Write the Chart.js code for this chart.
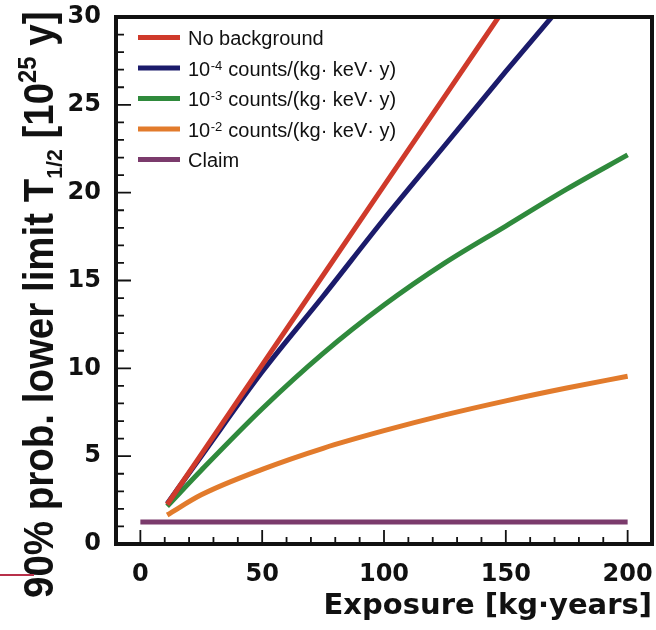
<!DOCTYPE html>
<html>
<head>
<meta charset="utf-8">
<script src="https://cdn.jsdelivr.net/npm/chart.js@4/dist/chart.umd.min.js"></script>
<style>
  html, body { margin: 0; padding: 0; background: #fff; }
  #wrap { position: relative; width: 656px; height: 630px; }
  #edge { position: absolute; left: 0; top: 574px; width: 34px; height: 2px; background: #b8304a; }
</style>
</head>
<body>
<div id="wrap">
  <canvas id="c" width="656" height="630"></canvas>
  <div id="edge"></div>
</div>
<script>
// Exposure grid (kg·years) and 90% lower limits on T1/2 (10^25 y)
const exposureNoBg = [11, 25, 50, 75, 100, 125, 150];
const limitNoBg    = [2.25, 5.1, 10.2, 15.3, 20.4, 25.5, 30.6];

const exposureBg4  = [11, 25, 50, 75, 100, 125, 150, 175];
const limitBg4     = [2.3, 5.0, 9.8, 14.1, 18.5, 22.7, 26.9, 31.0];

const exposureBg   = [11, 25, 50, 75, 100, 125, 150, 175, 200];
const limitBg3     = [2.15, 4.2, 7.7, 10.85, 13.6, 16.0, 18.1, 20.2, 22.15];
const limitBg2     = [1.65, 2.8, 4.25, 5.45, 6.45, 7.35, 8.15, 8.88, 9.55];

const exposureClaim = [0, 200];
const limitClaim    = [1.25, 1.25];

// Axis labels
const xTickValues = [0, 50, 100, 150, 200];
const yTickValues = [0, 5, 10, 15, 20, 25, 30];

// Legend text: main text, exponent, remainder
const legendMain  = ['No background', '10', '10', '10', 'Claim'];
const legendPower = ['', '-4', '-3', '-2', ''];
const legendUnit  = ['', ' counts/(kg\u00b7 keV\u00b7 y)', ' counts/(kg\u00b7 keV\u00b7 y)', ' counts/(kg\u00b7 keV\u00b7 y)', ''];

const seriesColors = ['#cf3a2b', '#1b1b6b', '#2f8a3c', '#e27b2c', '#7b3b6c'];

function toPoints(xs, ys) { return xs.map((x, i) => ({ x: x, y: ys[i] })); }

const lineStyle = {
  borderWidth: 5,
  pointRadius: 0,
  fill: false,
  cubicInterpolationMode: 'monotone',
  borderCapStyle: 'butt'
};

// Frame with inward ticks on the left and bottom edges
const framePlugin = {
  id: 'frame',
  afterDatasetsDraw(chart) {
    const ctx = chart.ctx;
    const a = chart.chartArea;
    const xs = chart.scales.x, ys = chart.scales.y;
    ctx.save();
    ctx.strokeStyle = '#111';
    ctx.lineWidth = 1.8;
    ctx.beginPath();
    for (let v = 0; v <= 200; v += 10) {
      const px = xs.getPixelForValue(v);
      const len = v % 50 === 0 ? 14 : 7;
      ctx.moveTo(px, a.bottom);
      ctx.lineTo(px, a.bottom - len);
    }
    for (let v = 0; v <= 30; v += 1) {
      const py = ys.getPixelForValue(v);
      const len = v % 5 === 0 ? 15 : 8;
      ctx.moveTo(a.left, py);
      ctx.lineTo(a.left + len, py);
    }
    ctx.stroke();
    ctx.lineWidth = 4;
    ctx.strokeStyle = '#111';
    ctx.strokeRect(a.left, a.top, a.right - a.left, a.bottom - a.top);
    ctx.restore();
  }
};

// Legend with superscripted powers of ten
const legendPlugin = {
  id: 'powerLegend',
  afterDraw(chart) {
    const ctx = chart.ctx;
    ctx.save();
    ctx.textBaseline = 'alphabetic';
    ctx.textAlign = 'left';
    for (let i = 0; i < legendMain.length; i++) {
      const rowY = 37.5 + i * 30.5;
      ctx.strokeStyle = chart.data.datasets[i].borderColor;
      ctx.lineWidth = 5;
      ctx.beginPath();
      ctx.moveTo(138, rowY);
      ctx.lineTo(180, rowY);
      ctx.stroke();
      ctx.fillStyle = '#111';
      let x = 188;
      const base = rowY + 7.5;
      ctx.font = '20px "Liberation Sans", Arial, sans-serif';
      ctx.fillText(legendMain[i], x, base);
      x += ctx.measureText(legendMain[i]).width;
      if (legendPower[i]) {
        ctx.font = '13px "Liberation Sans", Arial, sans-serif';
        ctx.fillText(legendPower[i], x + 0.5, base - 6);
        x += ctx.measureText(legendPower[i]).width + 1;
        ctx.font = '20px "Liberation Sans", Arial, sans-serif';
        ctx.fillText(legendUnit[i], x, base);
      }
    }
    ctx.restore();
  }
};

// Vertical axis title with subscript and superscript
const yTitlePlugin = {
  id: 'yTitle',
  afterDraw(chart) {
    const ctx = chart.ctx;
    const F = 38.5;
    const parts = [
      { t: '90% prob. lower limit T', s: 1, dy: 0 },
      { t: '1/2', s: 0.55, dy: 0.22 },
      { t: ' [10', s: 1, dy: 0 },
      { t: '25', s: 0.62, dy: -0.42 },
      { t: ' y]', s: 1, dy: 0 }
    ];
    ctx.save();
    ctx.translate(53, 598);
    ctx.scale(1.08, 1);
    ctx.rotate(-Math.PI / 2);
    ctx.fillStyle = '#111';
    ctx.textBaseline = 'alphabetic';
    ctx.textAlign = 'left';
    let x = 0;
    for (const p of parts) {
      ctx.font = 'bold ' + (F * p.s) + 'px "Liberation Sans", Arial, sans-serif';
      ctx.fillText(p.t, x, p.dy * F);
      x += ctx.measureText(p.t).width;
    }
    ctx.restore();
  }
};

const bgPlugin = {
  id: 'bg',
  beforeDraw(chart) {
    const ctx = chart.ctx;
    ctx.save();
    ctx.fillStyle = '#fff';
    ctx.fillRect(0, 0, chart.width, chart.height);
    ctx.restore();
  }
};

const tickFont = { family: 'DejaVu Sans', weight: 'bold', size: 24 };

new Chart(document.getElementById('c'), {
  type: 'line',
  data: {
    datasets: [
      Object.assign({ label: 'No background', data: toPoints(exposureNoBg, limitNoBg), borderColor: seriesColors[0] }, lineStyle),
      Object.assign({ label: '1e-4', data: toPoints(exposureBg4, limitBg4), borderColor: seriesColors[1] }, lineStyle),
      Object.assign({ label: '1e-3', data: toPoints(exposureBg, limitBg3), borderColor: seriesColors[2] }, lineStyle),
      Object.assign({ label: '1e-2', data: toPoints(exposureBg, limitBg2), borderColor: seriesColors[3] }, lineStyle),
      Object.assign({ label: 'Claim', data: toPoints(exposureClaim, limitClaim), borderColor: seriesColors[4] }, lineStyle)
    ]
  },
  options: {
    responsive: false,
    animation: false,
    devicePixelRatio: 1,
    layout: { padding: { top: 17, right: 4, left: 0, bottom: 0 }, autoPadding: false },
    plugins: { legend: { display: false }, tooltip: { enabled: false } },
    scales: {
      x: {
        type: 'linear',
        min: -10,
        max: 210,
        afterBuildTicks: s => { s.ticks = xTickValues.map(v => ({ value: v })); },
        afterFit: s => { s.height = 86; s.paddingLeft = 0; s.paddingRight = 0; },
        grid: { display: false },
        border: { display: false },
        ticks: { font: tickFont, color: '#111', padding: 8, maxRotation: 0, autoSkip: false },
        title: {
          display: true,
          text: 'Exposure [kg\u00b7years]',
          align: 'end',
          color: '#111',
          font: { family: 'DejaVu Sans', weight: 'bold', size: 29 },
          padding: { top: 0, bottom: 6 }
        }
      },
      y: {
        min: 0,
        max: 30,
        afterBuildTicks: s => { s.ticks = yTickValues.map(v => ({ value: v })); },
        afterFit: s => { s.width = 116; s.paddingTop = 0; s.paddingBottom = 0; },
        grid: { display: false },
        border: { display: false },
        ticks: { font: tickFont, color: '#111', padding: 7, autoSkip: false }
      }
    }
  },
  plugins: [bgPlugin, framePlugin, legendPlugin, yTitlePlugin]
});
</script>
</body>
</html>
